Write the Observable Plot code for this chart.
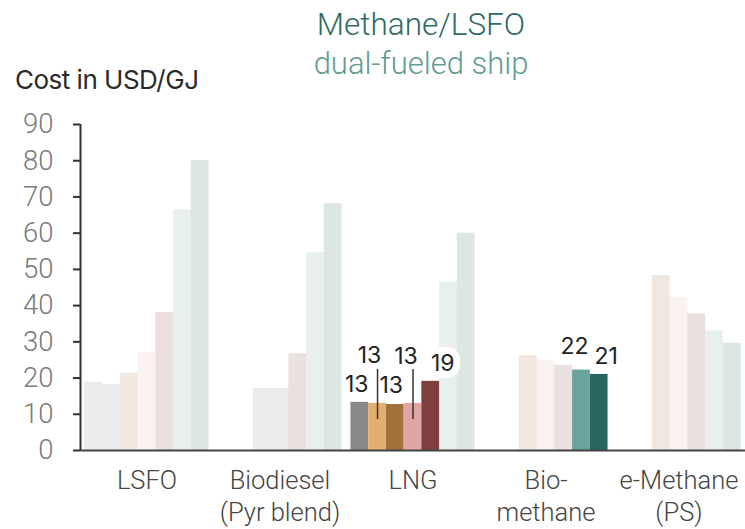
<!DOCTYPE html>
<html>
<head>
<meta charset="utf-8">
<script src="https://cdn.jsdelivr.net/npm/d3@7"></script>
<script src="https://cdn.jsdelivr.net/npm/@observablehq/plot@0.6"></script>
<style>
  html, body { margin: 0; padding: 0; background: #fff; }
  #wrap { position: relative; width: 745px; font-family: Inter, "Noto Sans", sans-serif; }
  #head { position: relative; height: 100px; }
  .t { position: absolute; white-space: nowrap; line-height: 1; }
  #title { left: 421px; top: 9px; transform: translateX(-50%); font-family: Roboto, sans-serif; font-size: 31.5px; font-weight: 300; color: #2b6b64; }
  #sub { left: 421px; top: 48px; transform: translateX(-50%); font-family: Roboto, sans-serif; font-size: 31px; font-weight: 300; color: #5f9b93; }
  #ylab { left: 15px; top: 67px; font-size: 26px; font-weight: 400; color: #2a2a2a; letter-spacing: -0.5px; }
</style>
</head>
<body>
<div id="wrap">
  <div id="head">
    <div class="t" id="title">Methane/LSFO</div>
    <div class="t" id="sub">dual-fueled ship</div>
    <div class="t" id="ylab">Cost in USD/GJ</div>
  </div>
  <div id="chart"></div>
</div>
<script>
// ---- data ----
const categories = ["LSFO", "Biodiesel", "LNG", "Bio-methane", "e-Methane"];
const categoryLabels = ["LSFO", "Biodiesel\n(Pyr blend)", "LNG", "Bio-\nmethane", "e-Methane\n(PS)"];
const seriesNames = ["S1", "S2", "S3", "S4", "S5", "S6", "S7"];
const seriesColors = ["#888888", "#e2ae6d", "#a0713d", "#e0a5a5", "#803f3f", "#6aa39b", "#276660"];
const yTicks = [0, 10, 20, 30, 40, 50, 60, 70, 80, 90];

const barCategory = [
  "LSFO","LSFO","LSFO","LSFO","LSFO","LSFO","LSFO",
  "Biodiesel","Biodiesel","Biodiesel","Biodiesel","Biodiesel",
  "LNG","LNG","LNG","LNG","LNG","LNG","LNG",
  "Bio-methane","Bio-methane","Bio-methane","Bio-methane","Bio-methane",
  "e-Methane","e-Methane","e-Methane","e-Methane","e-Methane"
];
const barSlot = [
  0,1,2,3,4,5,6,
  2,3,4,5,6,
  0,1,2,3,4,5,6,
  2,3,4,5,6,
  2,3,4,5,6
];
const barSeries = [
  "S1","S1","S3","S4","S5","S6","S7",
  "S1","S1","S5","S6","S7",
  "S1","S2","S3","S4","S5","S6","S7",
  "S3","S4","S5","S6","S7",
  "S3","S4","S5","S6","S7"
];
const barValue = [
  18.8, 18.2, 21.3, 27.1, 38.1, 66.4, 80.0,
  17.1, 17.1, 26.7, 54.6, 68.1,
  13.3, 13.0, 12.7, 13.0, 19.1, 46.5, 60.0,
  26.2, 24.9, 23.5, 22.2, 21.0,
  48.3, 42.3, 37.7, 33.0, 29.6
];
const barHighlight = [
  false,false,false,false,false,false,false,
  false,false,false,false,false,
  true,true,true,true,true,false,false,
  false,false,false,true,true,
  false,false,false,false,false
];

// label placement (annotation layout, pixels) for highlighted bars, in order
const labelLayout = [
  {dx: -3, dy: -10, leader: false, halo: false},
  {dx: -8, dy: -40, leader: true,  halo: false},
  {dx: -4, dy: -11, leader: false, halo: false},
  {dx: -7, dy: -39, leader: true,  halo: false},
  {dx: 12, dy: -10, leader: false, halo: true},
  {dx: -7, dy: -16, leader: false, halo: false},
  {dx: 7,  dy: -10, leader: false, halo: false}
];

// ---- build table ----
const GROUP = 7.5, PAD = 0.25;
const bars = barValue.map((v, i) => ({
  category: barCategory[i],
  slot: barSlot[i],
  series: barSeries[i],
  value: v,
  highlight: barHighlight[i],
  g: categories.indexOf(barCategory[i])
}));
bars.forEach(d => { d.x1 = d.g * GROUP + PAD + d.slot; d.x2 = d.x1 + 1; d.xc = d.x1 + 0.5; });
const labelled = bars.filter(d => d.highlight).map((d, i) => ({...d, ...labelLayout[i]}));
const cats = categoryLabels.map((label, i) => ({label, xc: i * GROUP + GROUP / 2}));

const marks = [
  Plot.rectY(bars, {
    x1: "x1", x2: "x2", y1: 0, y2: "value",
    fill: "series",
    fillOpacity: d => d.highlight ? 1 : 0.16
  }),
  ...labelled.map(d => Plot.text([d], {
    x: "xc", y: "value", text: d => d3.format(".0f")(d.value),
    dx: d.dx, dy: d.dy, lineAnchor: "bottom",
    fontSize: 23, fontWeight: 400, fill: "#222",
    ...(d.halo ? {stroke: "white", strokeWidth: 14, strokeLinejoin: "miter", strokeMiterlimit: 1.5} : {})
  })),
  Plot.ruleX(labelled.filter(d => d.leader), {
    x: "xc", y1: "value", y2: "value",
    insetTop: -34, insetBottom: -16,
    stroke: "#333", strokeWidth: 1.5
  }),
  Plot.ruleY([0], {stroke: "#444", strokeWidth: 2}),
  Plot.ruleX([0], {y1: 0, y2: 90, stroke: "#333", strokeWidth: 2}),
  Plot.axisY({
    ticks: yTicks, tickSize: 7, tickPadding: 20, label: null,
    stroke: "#333", strokeWidth: 2, fill: "#7a7a7a",
    fontFamily: "Roboto, sans-serif", fontSize: 27.5, fontWeight: 300
  }),
  Plot.text(cats, {
    x: "xc", text: "label", frameAnchor: "bottom", lineAnchor: "top",
    dy: 16, lineHeight: 1.24, fontFamily: "Roboto, sans-serif",
    fontSize: 25.5, fontWeight: 300, fill: "#444"
  })
];

const chart = Plot.plot({
  width: 745,
  height: 429,
  marginTop: 24,
  marginBottom: 79,
  marginLeft: 80,
  marginRight: 0,
  style: {fontFamily: "Inter, 'Noto Sans', sans-serif", overflow: "visible"},
  x: {domain: [0, categories.length * GROUP], axis: null},
  y: {domain: [0, 90], axis: null},
  color: {domain: seriesNames, range: seriesColors},
  marks
});
document.getElementById("chart").appendChild(chart);
</script>
</body>
</html>
